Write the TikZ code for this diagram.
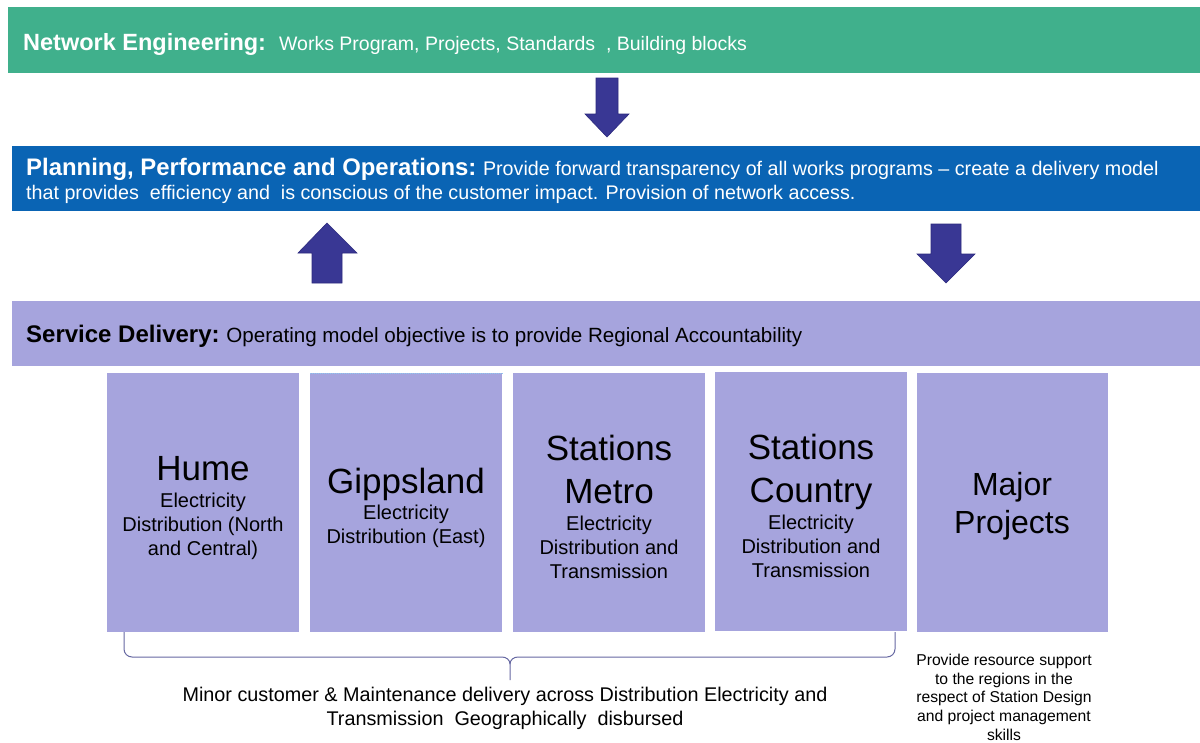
\documentclass[tikz,border=0pt]{standalone}
\usepackage{fontspec}
\setmainfont{Liberation Sans}
\definecolor{neGreen}{HTML}{40B08C}
\definecolor{ppoBlue}{HTML}{0A64B4}
\definecolor{lav}{HTML}{A6A4DD}
\definecolor{arrFill}{HTML}{393794}
\definecolor{arrEdge}{HTML}{2C2A7E}
\definecolor{braceCol}{HTML}{6668A2}
\definecolor{dotBlue}{HTML}{8CC8F0}
\newcommand{\fsz}[2]{\fontsize{#1}{#2}\selectfont}
\begin{document}
\begin{tikzpicture}[x=1pt,y=-1pt,
  bar/.style={draw=none,anchor=north west,inner sep=0pt},
  regbox/.style={fill=lav,draw=none,anchor=north west,inner sep=0pt,minimum width=192pt,minimum height=259pt},
  blockarrow/.style={fill=arrFill,draw=arrEdge,line width=0.6pt,line join=miter},
  title/.style={anchor=base,inner sep=0pt,font=\fsz{35}{42}},
  mptitle/.style={anchor=base,inner sep=0pt,font=\fsz{32}{38}},
  sub/.style={anchor=base,inner sep=0pt,font=\fsz{20}{24}},
  hdr/.style={anchor=base west,inner sep=0pt},
  note/.style={anchor=base,inner sep=0pt,font=\fsz{19.8}{24}},
  small/.style={anchor=base,inner sep=0pt,font=\fsz{15.7}{19}},
  brace/.style={draw=braceCol,line width=1pt}]
\useasboundingbox (0,0) rectangle (1200,742);
\fill[white] (0,0) rectangle (1200,742);

% bars
\node[bar,fill=neGreen,minimum width=1192pt,minimum height=66pt] (ne) at (8,7) {};
\node[bar,fill=ppoBlue,minimum width=1188pt,minimum height=65pt] (ppo) at (12,146) {};
\node[bar,fill=lav,minimum width=1188pt,minimum height=65pt] (sd) at (12,301) {};

% bar texts
\node[hdr,text=white] (netxt) at (23,50) {\fsz{23.5}{28}\bfseries Network Engineering:\ \ \fsz{19.5}{23}\mdseries Works Program, Projects, Standards\ \ , Building blocks};
\node[hdr,text=white] (ppotxta) at (26,175) {\fsz{23.9}{28}\bfseries Planning, Performance and Operations:\ \fsz{19.7}{23}\mdseries Provide forward transparency of all works programs -- create a delivery model};
\node[hdr,text=white,font=\fsz{19.7}{23}] (ppotxtb) at (26,199) {that provides\ \ efficiency and\ \ is conscious of the customer impact. Provision of network access.};
\node[hdr,text=black] (sdtxt) at (26,342) {\fsz{24}{28}\bfseries Service Delivery:\ \fsz{20.6}{24}\mdseries Operating model objective is to provide Regional Accountability};

% block arrows
\draw[blockarrow] (596,78) -- (618,78) -- (618,114) -- (629,114) -- (607,137) -- (585,114) -- (596,114) -- cycle;
\draw[blockarrow] (312,283) -- (342,283) -- (342,253) -- (357,253) -- (327,223) -- (298,253) -- (312,253) -- cycle;
\draw[blockarrow] (931,224) -- (961,224) -- (961,254) -- (975,254) -- (946,283) -- (917,254) -- (931,254) -- cycle;

% region boxes
\node[regbox] (hume) at (107,373) {};
\node[regbox] (gipp) at (310,373) {};
\node[regbox] (metro) at (513,373) {};
\node[regbox] (country) at (715,372) {};
\node[regbox,minimum width=191pt] (major) at (917,373) {};
\draw[dotBlue,densely dotted,line width=1pt] (gipp.north west) -- (gipp.north east);

% box texts
\node[title] (humeT) at (203,480) {Hume};
\node[sub] (humeS1) at (203,507) {Electricity};
\node[sub] (humeS2) at (203,531) {Distribution (North};
\node[sub] (humeS3) at (203,555) {and Central)};

\node[title] (gippT) at (406,493) {Gippsland};
\node[sub] (gippS1) at (406,519) {Electricity};
\node[sub] (gippS2) at (406,543) {Distribution (East)};

\node[title] (metroT1) at (609,460) {Stations};
\node[title] (metroT2) at (609,503) {Metro};
\node[sub] (metroS1) at (609,530) {Electricity};
\node[sub] (metroS2) at (609,554) {Distribution and};
\node[sub] (metroS3) at (609,578) {Transmission};

\node[title] (countryT1) at (811,459) {Stations};
\node[title] (countryT2) at (811,502) {Country};
\node[sub] (countryS1) at (811,529) {Electricity};
\node[sub] (countryS2) at (811,553) {Distribution and};
\node[sub] (countryS3) at (811,577) {Transmission};

\node[mptitle] (majorT1) at (1012,495) {Major};
\node[mptitle] (majorT2) at (1012,533) {Projects};

% brace
\coordinate (bl) at (124,632);
\coordinate (br) at (895,632);
\coordinate (bm) at (510,680);
\draw[brace] (bl) -- (124,649) to[out=-90,in=180] (132,657) -- (502,657) to[out=0,in=90] (bm|-664,664) -- (bm);
\draw[brace] (br) -- (895,649) to[out=-90,in=0] (887,657) -- (518,657) to[out=180,in=90] (bm|-664,664);

% notes
\node[note] (minor1) at (505,701) {Minor customer \& Maintenance delivery across Distribution Electricity and};
\node[note] (minor2) at (505,725) {Transmission\ \ Geographically\ \ disbursed};

\node[small] (mp1) at (1004,665) {Provide\ resource\ support};
\node[small] (mp2) at (1004,684) {to the regions\ in the};
\node[small] (mp3) at (1004,702) {respect of Station Design};
\node[small] (mp4) at (1004,721) {and project management};
\node[small] (mp5) at (1004,740) {skills};
\end{tikzpicture}
\end{document}
